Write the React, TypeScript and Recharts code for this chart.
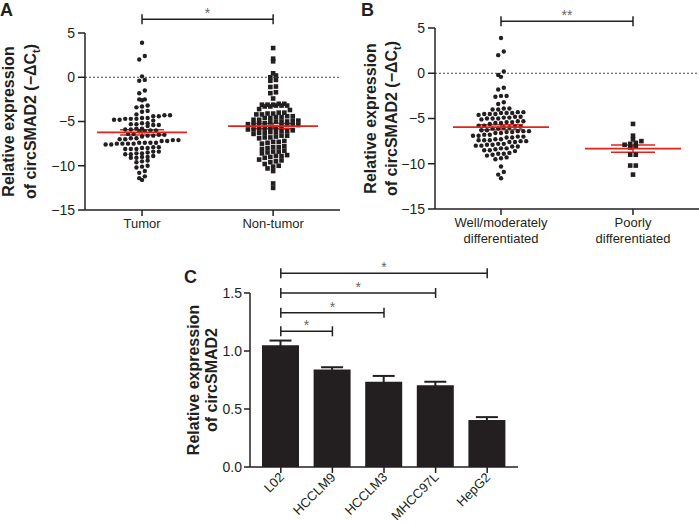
import React from "react";
import { ScatterChart, Scatter, XAxis, YAxis, ReferenceLine, ErrorBar, BarChart, Bar } from "recharts";

const FONT = '"Liberation Sans", Arial, sans-serif';
const INK = "#231f20";
const RED = "#e2231a";

// panel A / B: relative expression (-dCt) per sample
const tumor = [
  3.9, 2.4, 2.0, 0.1, -0.3, -0.4, -1.5, -1.8, -2.5, -2.5, -2.6, -3.2, -3.3, -3.4, -3.8, -3.9,
  -4.2, -4.3, -4.3, -4.4, -4.4,
  -4.6, -4.6, -4.7, -4.7, -4.7, -4.8, -4.8, -4.9,
  -5.2, -5.2, -5.3, -5.3, -5.4, -5.4, -5.5,
  -5.8, -5.8, -5.9, -5.9, -6.0, -6.0, -6.1, -6.1,
  -6.4, -6.4, -6.5, -6.5, -6.6, -6.6, -6.7,
  -6.9, -6.9, -7.0, -7.0, -7.1, -7.1, -7.2, -7.2,
  -7.4, -7.4, -7.4, -7.4, -7.5, -7.5, -7.5, -7.5, -7.6, -7.6,
  -7.9, -7.9, -8.0, -8.0, -8.1, -8.1, -8.1,
  -8.4, -8.4, -8.5, -8.6, -8.6, -8.7, -8.7,
  -8.9, -9.0, -9.0, -9.1, -9.1,
  -9.4, -9.5, -9.6, -10.0, -10.1, -10.2, -10.6, -10.8, -11.2, -11.4, -11.6,
];
const nonTumor = [
  3.3, 2.1, 1.8, 0.45, 0.2, 0.0, -0.3, -0.4, -1.05, -1.1, -1.7, -1.8, -2.4,
  -3.0, -3.0, -3.1, -3.1, -3.1, -3.2, -3.2, -3.2, -3.3, -3.3,
  -3.6, -3.7,
  -4.0, -4.0, -4.1, -4.1, -4.2, -4.2,
  -4.4, -4.4, -4.5, -4.5, -4.6, -4.6,
  -4.8, -4.8, -4.9, -4.9, -5.0, -5.0, -5.0, -5.1,
  -5.2, -5.2, -5.3, -5.3, -5.4, -5.4, -5.4, -5.5,
  -5.7, -5.7, -5.8, -5.8, -5.9, -5.9, -6.0,
  -6.1, -6.1, -6.2, -6.2, -6.3, -6.3, -6.4,
  -6.6, -6.6, -6.7, -6.8, -6.8, -6.9,
  -7.2, -7.3, -7.3, -7.4, -7.5,
  -7.8, -7.9, -7.9, -8.0, -8.1,
  -8.3, -8.4, -8.4, -8.5, -8.6,
  -8.8, -8.9, -8.9, -9.0, -9.1,
  -9.3, -9.4, -9.5, -9.6,
  -9.8, -10.0, -10.1, -10.3, -10.6, -12.0, -12.5,
];
const wellModerate = [
  3.9, 2.4, 2.0, 0.2, -0.2, -0.4, -1.6, -1.8, -2.5, -2.5, -2.6, -3.2, -3.4, -3.9, -3.9, -4.0, -4.0,
  -4.3, -4.3, -4.4, -4.4, -4.4, -4.5, -4.5, -4.5, -4.6,
  -4.8, -4.8, -4.9, -4.9, -5.0, -5.0, -5.0, -5.1,
  -5.3, -5.3, -5.4, -5.4, -5.5, -5.5, -5.6,
  -5.8, -5.8, -5.9, -5.9, -6.0, -6.0, -6.1, -6.1,
  -6.3, -6.3, -6.4, -6.4, -6.4, -6.5, -6.5, -6.6, -6.6,
  -6.8, -6.8, -6.9, -6.9, -7.0, -7.0, -7.1, -7.1,
  -7.3, -7.3, -7.4, -7.4, -7.4, -7.5, -7.5, -7.6, -7.6,
  -7.8, -7.8, -7.9, -7.9, -8.0, -8.0, -8.1, -8.1,
  -8.3, -8.3, -8.4, -8.5, -8.5, -8.6,
  -8.8, -8.9, -8.9, -9.0, -9.1,
  -9.3, -9.4, -9.5, -10.3, -10.9, -11.2, -11.6,
];
const poorly = [-5.6, -6.9, -7.3, -7.5, -7.7, -7.8, -7.9, -8.1, -8.2, -9.0, -9.0, -10.2, -10.2, -11.2];

const groupsA = ["Tumor", "Non-tumor"];
const groupsB = [["Well/moderately", "differentiated"], ["Poorly", "differentiated"]];
const dctTicks = [-15, -10, -5, 0, 5];

// panel C
const cellLines = ["L02", "HCCLM9", "HCCLM3", "MHCC97L", "HepG2"];
const cellExpr = [1.05, 0.84, 0.735, 0.705, 0.405];
const cellSem = [0.04, 0.02, 0.05, 0.03, 0.025];
const compareTo = ["HCCLM9", "HCCLM3", "MHCC97L", "HepG2"];
const compareLevel = [1.17, 1.33, 1.5, 1.67];
const cellData = cellLines.map((name, i) => ({ name, value: cellExpr[i], err: cellSem[i] }));

const meanOf = (a: number[]) => a.reduce((s, v) => s + v, 0) / a.length;
const semOf = (a: number[]) => {
  const m = meanOf(a);
  const sd = Math.sqrt(a.reduce((s, v) => s + (v - m) ** 2, 0) / (a.length - 1));
  return sd / Math.sqrt(a.length);
};

// Prism-style column scatter: bin by height, spread each row evenly around the category
function swarm(values: number[], group: number, pxX: number, pxY: number, rowPx: number, stepPx: number) {
  const rows = new Map<number, number[]>();
  values.forEach((v) => {
    const r = Math.round((v * pxY) / rowPx);
    rows.set(r, [...(rows.get(r) || []), v]);
  });
  const out: { x: number; y: number }[] = [];
  rows.forEach((vs) => {
    vs.sort((a, b) => a - b);
    vs.forEach((v, j) => out.push({ x: group + ((j - (vs.length - 1) / 2) * stepPx) / pxX, y: v }));
  });
  return out;
}

const minus = (v: number) => (v < 0 ? "\u2212" + Math.abs(v) : String(v));

const Bracket = (props: any) => {
  const { x1, y1, x2, mark } = props;
  return (
    <g>
      <line x1={x1} y1={y1} x2={x2} y2={y1} stroke={INK} strokeWidth={1.5} />
      <line x1={x1} y1={y1 - 5} x2={x1} y2={y1 + 5} stroke={INK} strokeWidth={1.5} />
      <line x1={x2} y1={y1 - 5} x2={x2} y2={y1 + 5} stroke={INK} strokeWidth={1.5} />
      <text x={(x1 + x2) / 2} y={y1 - 1} textAnchor="middle" fontSize={14} fill="#666" fontFamily={FONT}>
        {mark}
      </text>
    </g>
  );
};

const YTitle = ({ x1, x2, cy, second, sub }: { x1: number; x2: number; cy: number; second: string; sub?: boolean }) => (
  <g fontFamily={FONT} fontWeight="bold" fontSize={16} fill={INK}>
    <text x={x1} y={cy} textAnchor="middle" transform={`rotate(-90 ${x1} ${cy})`}>
      Relative expression
    </text>
    <text x={x2} y={cy} textAnchor="middle" transform={`rotate(-90 ${x2} ${cy})`}>
      {second}
      {sub ? (
        <>
          <tspan dy={4} fontSize={11}>t</tspan>
          <tspan dy={-4}>)</tspan>
        </>
      ) : null}
    </text>
  </g>
);

type DotGroup = { values: number[]; square: boolean };

function DotPanel(props: {
  left: number;
  width: number;
  height: number;
  margin: { top: number; right: number; bottom: number; left: number };
  xDomain: [number, number];
  groups: DotGroup[];
  tick: any;
  bracketY: number;
  mark: string;
  titleX: [number, number];
  meanHalf: number;
  semHalf: number;
}) {
  const { left, width, height, margin, xDomain, groups, tick, bracketY, mark, titleX, meanHalf, semHalf } = props;
  const yAxisW = 55;
  const xAxisH = 30;
  const plotW = width - margin.left - margin.right - yAxisW;
  const plotH = height - margin.top - margin.bottom - xAxisH;
  const pxX = plotW / (xDomain[1] - xDomain[0]);
  const pxY = plotH / 20;
  const cy = margin.top + plotH / 2;
  return (
    <div style={{ position: "absolute", left, top: 0 }}>
      <ScatterChart width={width} height={height} margin={margin}>
        <XAxis
          type="number"
          dataKey="x"
          domain={xDomain}
          ticks={[0, 1]}
          interval={0}
          allowDataOverflow
          height={xAxisH}
          tick={tick}
          tickSize={6}
          tickMargin={3}
          axisLine={{ stroke: INK, strokeWidth: 1.5 }}
          tickLine={{ stroke: INK, strokeWidth: 1.5 }}
        />
        <YAxis
          type="number"
          dataKey="y"
          domain={[-15, 5]}
          ticks={dctTicks}
          interval={0}
          allowDataOverflow
          width={yAxisW}
          tickFormatter={minus}
          tickSize={7}
          tickMargin={3}
          tick={{ fill: INK, fontSize: 14, fontFamily: FONT }}
          axisLine={{ stroke: INK, strokeWidth: 1.5 }}
          tickLine={{ stroke: INK, strokeWidth: 1.5 }}
          label={() => <YTitle x1={titleX[0]} x2={titleX[1]} cy={cy} second={"of circSMAD2 (\u2212\u0394C"} sub />}
        />
        <ReferenceLine y={0} stroke="#444" strokeDasharray="2 2" strokeWidth={1} />
        {groups.map((g, i) => (
          <Scatter
            key={"d" + i}
            data={swarm(g.values, i, pxX, pxY, 5, 5.6)}
            isAnimationActive={false}
            shape={(p: any) =>
              g.square ? (
                <rect x={p.cx - 2.3} y={p.cy - 2.3} width={4.6} height={4.6} fill={INK} />
              ) : (
                <circle cx={p.cx} cy={p.cy} r={2.2} fill={INK} />
              )
            }
          />
        ))}
        {groups.map((g, i) => (
          <Scatter
            key={"m" + i}
            data={[{ x: i, y: meanOf(g.values), sem: semOf(g.values) }]}
            isAnimationActive={false}
            shape={(p: any) => (
              <line x1={p.cx - meanHalf} x2={p.cx + meanHalf} y1={p.cy} y2={p.cy} stroke={RED} strokeWidth={1.8} />
            )}
          >
            <ErrorBar dataKey="sem" direction="y" width={semHalf} stroke={RED} strokeWidth={1.5} />
          </Scatter>
        ))}
        <ReferenceLine
          segment={[{ x: 0, y: bracketY }, { x: 1, y: bracketY }]}
          ifOverflow="visible"
          shape={(p: any) => <Bracket {...p} mark={mark} />}
        />
      </ScatterChart>
    </div>
  );
}

const TickA = ({ x, y, payload }: any) => (
  <text x={x} y={y} dy="0.71em" textAnchor="middle" fontSize={13} fill={INK} fontFamily={FONT}>
    {groupsA[payload.value]}
  </text>
);

const TickB = ({ x, y, payload }: any) => {
  const lines = groupsB[payload.value] || ["", ""];
  return (
    <text x={x} y={y} textAnchor="middle" fontSize={13} fill={INK} fontFamily={FONT}>
      <tspan x={x} dy="0.71em">{lines[0]}</tspan>
      <tspan x={x} dy={16}>{lines[1]}</tspan>
    </text>
  );
};

const TickC = ({ x, y, payload }: any) => (
  <text
    x={x + 4}
    y={y + 3}
    transform={`rotate(-45 ${x + 4} ${y + 3})`}
    textAnchor="end"
    fontSize={13}
    fill={INK}
    fontFamily={FONT}
  >
    {payload.value}
  </text>
);

export default function App() {
  return (
    <div style={{ position: "absolute", left: 0, top: 0, width: 699, height: 525, background: "#fff", fontFamily: FONT }}>
      <svg width={699} height={525} style={{ position: "absolute", left: 0, top: 0 }}>
        <g fontFamily={FONT} fontWeight="bold" fontSize={18} fill={INK}>
          <text x={0} y={16}>A</text>
          <text x={361} y={16}>B</text>
          <text x={184} y={283}>C</text>
        </g>
      </svg>

      <DotPanel
        left={0}
        width={350}
        height={250}
        margin={{ top: 33, right: 10, bottom: 10, left: 30 }}
        xDomain={[-0.435, 1.51]}
        groups={[
          { values: tumor, square: false },
          { values: nonTumor, square: true },
        ]}
        tick={<TickA />}
        bracketY={6.55}
        mark="*"
        titleX={[14, 36]}
        meanHalf={45}
        semHalf={22}
      />

      <DotPanel
        left={350}
        width={349}
        height={250}
        margin={{ top: 28, right: 0, bottom: 11, left: 30 }}
        xDomain={[-0.5, 1.5]}
        groups={[
          { values: wellModerate, square: false },
          { values: poorly, square: true },
        ]}
        tick={<TickB />}
        bracketY={5.75}
        mark="**"
        titleX={[26, 47]}
        meanHalf={48}
        semHalf={22}
      />

      <div style={{ position: "absolute", left: 150, top: 250 }}>
        <BarChart width={390} height={275} data={cellData} margin={{ top: 43, right: 22, bottom: 0, left: 55 }} barSize={37}>
          <XAxis
            dataKey="name"
            interval={0}
            height={58}
            padding={{ left: 5, right: 5 }}
            tick={<TickC />}
            tickSize={6}
            axisLine={{ stroke: INK, strokeWidth: 1.5 }}
            tickLine={{ stroke: INK, strokeWidth: 1.5 }}
          />
          <YAxis
            type="number"
            domain={[0, 1.5]}
            ticks={[0, 0.5, 1, 1.5]}
            interval={0}
            allowDataOverflow
            width={45}
            tickFormatter={(v: number) => v.toFixed(1)}
            tickSize={6}
            tickMargin={2}
            tick={{ fill: INK, fontSize: 14, fontFamily: FONT }}
            axisLine={{ stroke: INK, strokeWidth: 1.5 }}
            tickLine={{ stroke: INK, strokeWidth: 1.5 }}
            label={() => <YTitle x1={49} x2={67} cy={130} second="of circSMAD2" />}
          />
          <Bar dataKey="value" fill={INK} isAnimationActive={false}>
            <ErrorBar dataKey="err" direction="y" width={11} stroke={INK} strokeWidth={2} />
          </Bar>
          {compareTo.map((name, i) => (
            <ReferenceLine
              key={name}
              segment={[{ x: "L02", y: compareLevel[i] }, { x: name, y: compareLevel[i] }]}
              ifOverflow="visible"
              shape={(p: any) => <Bracket {...p} mark="*" />}
            />
          ))}
        </BarChart>
      </div>
    </div>
  );
}
